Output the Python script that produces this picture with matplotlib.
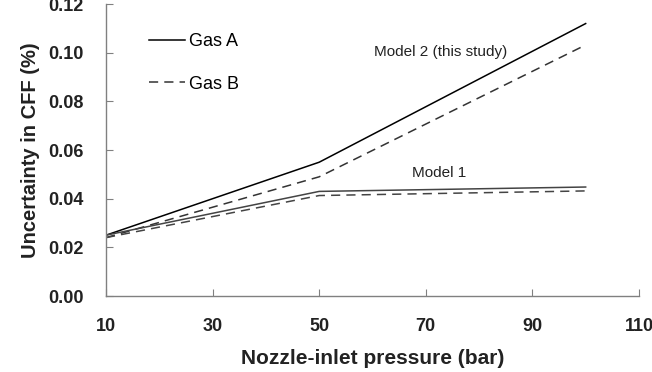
import matplotlib.pyplot as plt

plt.rcParams['font.family'] = ['Liberation Sans', 'DejaVu Sans']

# nozzle-inlet pressure (bar)
pressure = [10, 50, 100]

# uncertainty in CFF (%)
model2_gas_a = [0.025, 0.055, 0.112]
model2_gas_b = [0.024, 0.049, 0.1032]
model1_gas_a = [0.025, 0.043, 0.0448]
model1_gas_b = [0.024, 0.0413, 0.0432]

fig = plt.figure(figsize=(6.52, 3.72), dpi=100)
ax = fig.add_axes([0.1626, 0.2043, 0.8174, 0.7847])

ax.plot(pressure, model2_gas_a, color="black", lw=1.1, label="Gas A")
ax.plot(pressure, model2_gas_b, color="#333333", lw=1.1, ls=(0, (6, 4)), label="Gas B")
ax.plot(pressure, model1_gas_a, color="#444444", lw=1.1)
ax.plot(pressure, model1_gas_b, color="#444444", lw=1.1, ls=(0, (6, 4)))

ax.text(72.7, 0.1003, "Model 2 (this study)", ha="center", va="center", fontsize=11, color="#222222")
ax.text(72.5, 0.0505, "Model 1", ha="center", va="center", fontsize=11, color="#222222")

ax.set_xlim(10, 110)
ax.set_ylim(0, 0.12)
ax.set_xticks([10, 30, 50, 70, 90, 110])
ax.set_yticks([0.0, 0.02, 0.04, 0.06, 0.08, 0.10, 0.12])
ax.set_yticklabels([f"{v:.2f}" for v in ax.get_yticks()])

for s in ["top", "right"]:
    ax.spines[s].set_visible(False)
for s in ["left", "bottom"]:
    ax.spines[s].set_color("#808080")
    ax.spines[s].set_linewidth(1.0)

ax.tick_params(direction="in", length=5, color="#808080", labelsize=13)
ax.tick_params(axis="x", pad=16)
ax.tick_params(axis="y", pad=16)
for lab in ax.get_xticklabels() + ax.get_yticklabels():
    lab.set_fontweight("bold")
    lab.set_color("#222222")

ax.set_xlabel("Nozzle-inlet pressure (bar)", fontsize=15, fontweight="bold", labelpad=10, color="#222222")
ax.set_ylabel("Uncertainty in CFF (%)", fontsize=14.5, fontweight="bold", labelpad=6, color="#222222")

ax.legend(loc="upper left", bbox_to_anchor=(0.05, 0.955), frameon=False, fontsize=13,
          handlelength=2.0, handletextpad=0.2, labelspacing=1.4)

plt.savefig("out.png", dpi=100)
